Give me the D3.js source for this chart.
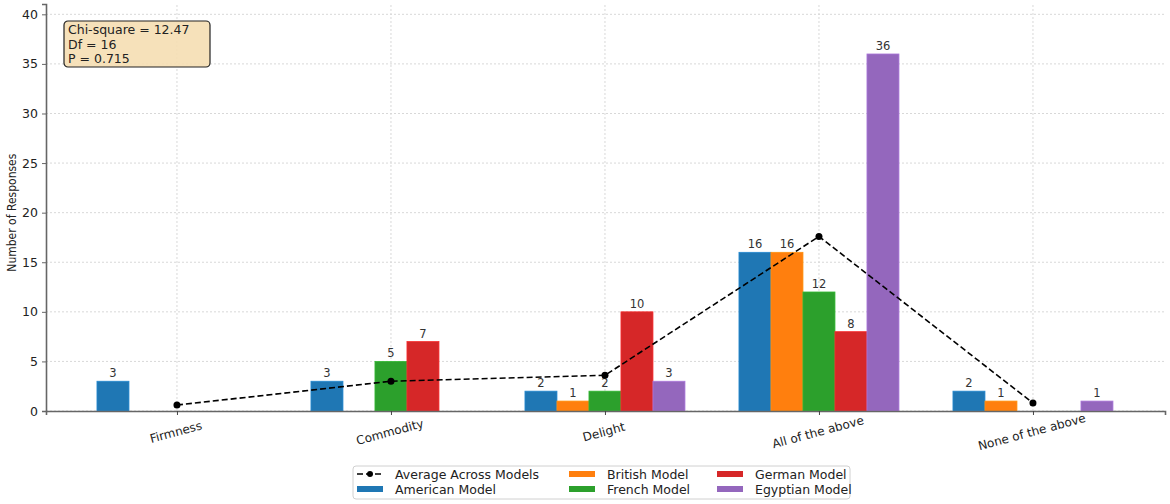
<!DOCTYPE html>
<html>
<head>
<meta charset="utf-8">
<script src="https://cdn.jsdelivr.net/npm/d3@7"></script>
<style>
  body { margin: 0; background: #fff; }
  svg { display: block; font-family: "DejaVu Sans", sans-serif; }
</style>
</head>
<body>
<svg id="chart"></svg>
<script>
// data
const categories = ["Firmness", "Commodity", "Delight", "All of the above", "None of the above"];
const seriesNames = ["American Model", "British Model", "French Model", "German Model", "Egyptian Model"];
const american = [3, 3, 2, 16, 2];
const british = [0, 0, 1, 16, 1];
const french = [0, 5, 2, 12, 0];
const german = [0, 7, 10, 8, 0];
const egyptian = [0, 0, 3, 36, 1];
const yTicks = [0, 5, 10, 15, 20, 25, 30, 35, 40];
const statLines = ["Chi-square = 12.47", "Df = 16", "P = 0.715"];

const colors = ["#1f77b4", "#ff7f0e", "#2ca02c", "#d62728", "#9467bd"];
const series = [american, british, french, german, egyptian];
const averages = categories.map((c, i) => d3.mean(series, s => s[i]));

const settings = {
  width: 1170,
  height: 504,
  margin: { top: 4, bottom: 93, left: 46, right: 5 },
  barWidth: 32
};

const svg = d3.select("#chart")
  .attr("width", settings.width)
  .attr("height", settings.height);

const x = d3.scaleLinear()
  .domain([-0.612, categories.length - 1 + 0.617])
  .range([settings.margin.left, settings.width - settings.margin.right]);
const y = d3.scaleLinear()
  .domain([0, 41.04])
  .range([settings.height - settings.margin.bottom, settings.margin.top]);

// grid
const grid = svg.append("g");
grid.selectAll(".hgrid")
  .data(yTicks)
  .enter().append("line")
  .attr("x1", x.range()[0]).attr("x2", x.range()[1])
  .attr("y1", d => y(d)).attr("y2", d => y(d))
  .attr("stroke", "#d8d8d8").attr("stroke-width", 1)
  .attr("stroke-dasharray", "2,2");
grid.selectAll(".vgrid")
  .data(categories)
  .enter().append("line")
  .attr("x1", (d, i) => x(i)).attr("x2", (d, i) => x(i))
  .attr("y1", y.range()[0]).attr("y2", y.range()[1])
  .attr("stroke", "#d8d8d8").attr("stroke-width", 1)
  .attr("stroke-dasharray", "2,2");

// bars
series.forEach((s, k) => {
  const g = svg.append("g");
  g.selectAll("rect")
    .data(s)
    .enter().append("rect")
    .attr("x", (d, i) => x(i) + (k - 2.5) * settings.barWidth)
    .attr("y", d => y(d))
    .attr("width", settings.barWidth)
    .attr("height", d => y(0) - y(d))
    .attr("fill", colors[k])
    .attr("stroke", d3.color(colors[k]).brighter(0.4))
    .attr("stroke-width", 0.8);
  g.selectAll("text")
    .data(s.map((v, i) => ({ v, i })).filter(d => d.v > 0))
    .enter().append("text")
    .attr("x", d => x(d.i) + (k - 2) * settings.barWidth)
    .attr("y", d => y(d.v) - 4)
    .attr("text-anchor", "middle")
    .attr("font-size", 11.5)
    .attr("fill", "#333")
    .text(d => d.v);
});

// axes
const yAxis = d3.axisLeft(y).tickValues(yTicks).tickSize(4).tickPadding(4);
const gy = svg.append("g")
  .attr("transform", "translate(" + settings.margin.left + ",0)")
  .call(yAxis);
gy.select(".domain").attr("stroke", "#666").attr("stroke-width", 1.6);
gy.selectAll(".tick line").attr("stroke", "#666");
gy.selectAll("text").attr("font-size", 12.5).attr("fill", "#222").attr("font-family", "DejaVu Sans");

const xAxis = d3.axisBottom(x).tickValues(d3.range(categories.length)).tickSize(4).tickFormat("");
const gx = svg.append("g")
  .attr("transform", "translate(0," + y(0) + ")")
  .call(xAxis);
gx.select(".domain").attr("stroke", "#666").attr("stroke-width", 1.6);
gx.selectAll(".tick line").attr("stroke", "#444");

svg.append("g").selectAll("text")
  .data(categories)
  .enter().append("text")
  .attr("transform", (d, i) => "translate(" + x(i) + "," + (y(0) + 25) + ") rotate(-15)")
  .attr("text-anchor", "middle")
  .attr("font-size", 12)
  .attr("fill", "#222")
  .text(d => d);

svg.append("text")
  .attr("transform", "translate(16," + (y(20) + 0) + ") rotate(-90)")
  .attr("text-anchor", "middle")
  .attr("font-size", 12)
  .attr("font-family", "DejaVu Sans Condensed, DejaVu Sans")
  .attr("fill", "#222")
  .text("Number of Responses");

// average line
const line = d3.line().x((d, i) => x(i)).y(d => y(d));
svg.append("path")
  .datum(averages)
  .attr("d", line)
  .attr("fill", "none")
  .attr("stroke", "#000")
  .attr("stroke-width", 1.6)
  .attr("stroke-dasharray", "6,3");
svg.append("g").selectAll("circle")
  .data(averages)
  .enter().append("circle")
  .attr("cx", (d, i) => x(i))
  .attr("cy", d => y(d))
  .attr("r", 3.5)
  .attr("fill", "#000");

// stats box
const box = svg.append("g").attr("transform", "translate(64,21)");
box.append("rect")
  .attr("width", 146).attr("height", 46)
  .attr("rx", 4)
  .attr("fill", "#f5deb3").attr("fill-opacity", 0.9)
  .attr("stroke", "#222").attr("stroke-width", 1.2);
box.selectAll("text")
  .data(statLines)
  .enter().append("text")
  .attr("x", 4)
  .attr("y", (d, i) => 13 + i * 14.5)
  .attr("font-size", 12.5)
  .attr("fill", "#222")
  .text(d => d);

// legend
const legend = svg.append("g").attr("transform", "translate(353,466)");
legend.append("rect")
  .attr("width", 497).attr("height", 33)
  .attr("rx", 3)
  .attr("fill", "#fff")
  .attr("stroke", "#d0d0d0");
const items = [{ name: "Average Across Models", type: "line" }]
  .concat(seriesNames.map((n, k) => ({ name: n, type: "bar", color: colors[k] })));
const colX = [4, 216, 364];
items.forEach((it, j) => {
  const col = Math.floor(j / 2), row = j % 2;
  const g = legend.append("g")
    .attr("transform", "translate(" + colX[col] + "," + (8 + row * 15) + ")");
  if (it.type === "line") {
    g.append("line")
      .attr("x1", 0).attr("x2", 26).attr("y1", 0).attr("y2", 0)
      .attr("stroke", "#000").attr("stroke-width", 1.6)
      .attr("stroke-dasharray", "6,3");
    g.append("circle").attr("cx", 13).attr("cy", 0).attr("r", 3).attr("fill", "#000");
  } else {
    g.append("rect")
      .attr("x", 0).attr("y", -3)
      .attr("width", 26).attr("height", 6)
      .attr("fill", it.color);
  }
  g.append("text")
    .attr("x", 38).attr("y", 4.5)
    .attr("font-size", 12.5)
    .attr("fill", "#222")
    .text(it.name);
});
</script>
</body>
</html>
